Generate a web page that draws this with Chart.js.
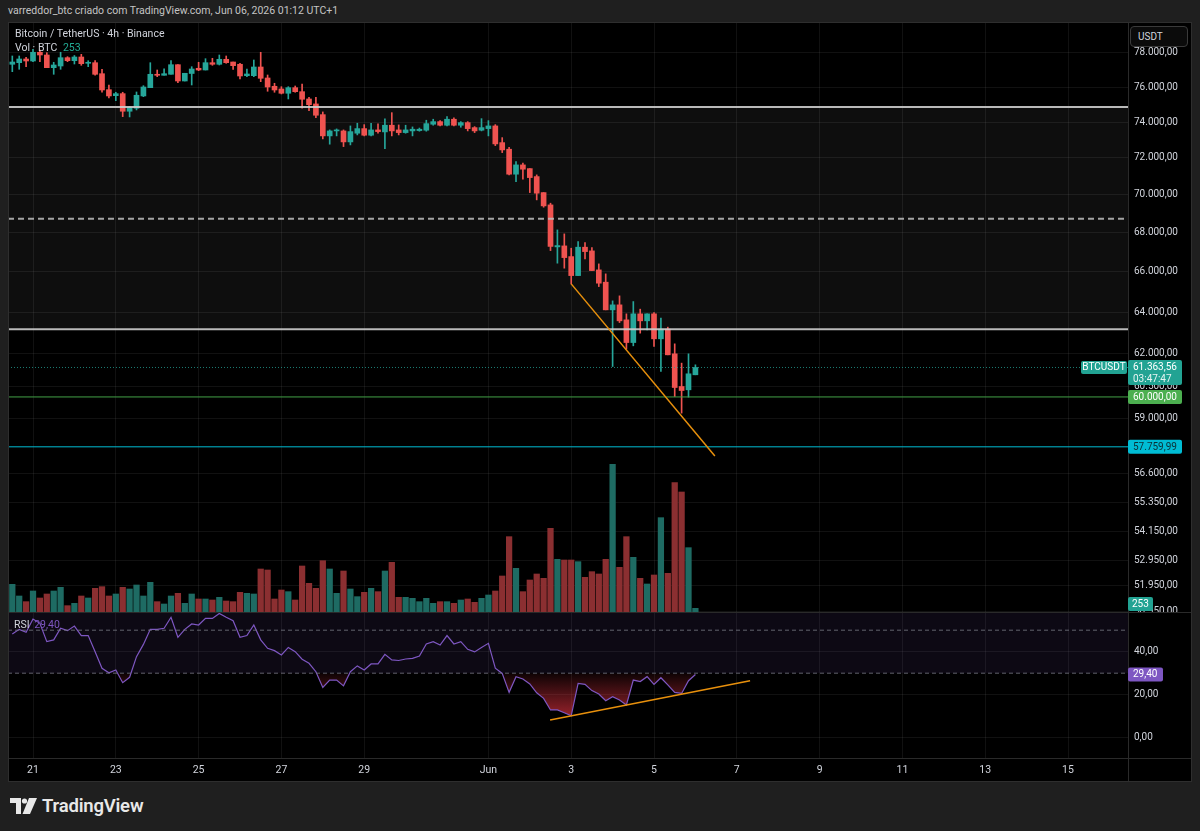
<!DOCTYPE html>
<html lang="pt">
<head>
<meta charset="utf-8">
<title>Bitcoin / TetherUS · 4h · Binance</title>
<script src="https://cdn.jsdelivr.net/npm/chart.js@4.4.1/dist/chart.umd.min.js"></script>
<style>
html,body{margin:0;padding:0;width:1200px;height:831px;background:#1f1f1f;overflow:hidden;font-family:Roboto,"Noto Sans","DejaVu Sans",sans-serif;}
.abs{position:absolute;}
#hdr{left:8px;top:4px;font-size:10.5px;line-height:14px;color:#c4c4c4;white-space:nowrap;z-index:3;}
#panelBg{left:8px;top:22px;width:1184px;height:760px;background:#000;z-index:0;}
#panelBorder{left:8px;top:22px;width:1184px;height:760px;border:1px solid #2e2e2e;box-sizing:border-box;z-index:5;pointer-events:none;}
.sepH{height:1px;background:#2a2a2a;z-index:1;}
.sepV{width:1px;background:#2a2a2a;z-index:1;}
canvas{position:absolute;z-index:2;}
.legend{z-index:4;font-size:10.5px;line-height:14px;color:#d1d4dc;white-space:nowrap;}
#usdt{left:1130px;top:26px;width:58px;height:21px;box-sizing:border-box;border:1px solid #3a3a3a;border-radius:4px;background:#0b0b0b;color:#d1d4dc;font-size:10px;line-height:19px;padding-left:7px;z-index:4;}
#logo{left:10px;top:795px;height:22px;z-index:3;display:flex;align-items:center;}
#logo span{font-size:18.5px;font-weight:600;color:#e8e8e8;margin-left:4px;letter-spacing:-0.2px;}
</style>
</head>
<body>
<div id="hdr" class="abs">varreddor_btc criado com TradingView.com, Jun 06, 2026 01:12 UTC+1</div>
<div id="panelBg" class="abs"></div>
<div class="abs sepH" style="left:8px;top:612px;width:1184px;"></div>
<div class="abs sepH" style="left:8px;top:758px;width:1184px;"></div>
<div class="abs sepV" style="left:1128px;top:22px;height:760px;"></div>
<canvas id="priceCanvas" width="1184" height="590" style="left:8px;top:22px;width:1184px;height:590px;"></canvas>
<canvas id="rsiCanvas" width="1184" height="169" style="left:8px;top:613px;width:1184px;height:169px;"></canvas>
<div class="abs legend" style="left:15px;top:27px;">Bitcoin / TetherUS · 4h · Binance</div>
<div class="abs legend" style="left:15px;top:41px;">Vol · BTC <span style="color:#22ab94;margin-left:3px;">253</span></div>
<div class="abs legend" style="left:14px;top:618px;">RSI <span style="color:#7e57c2;margin-left:2px;">29,40</span></div>
<div id="usdt" class="abs">USDT</div>
<div id="panelBorder" class="abs"></div>
<div id="logo" class="abs">
  <svg width="28" height="16" viewBox="0 0 28 16"><path d="M0 0H11V16H6V5H0Z" fill="#e8e8e8"/><circle cx="14.5" cy="3" r="2.6" fill="#e8e8e8"/><path d="M19 0H27L20 16H12.5Z" fill="#e8e8e8"/></svg>
  <span>TradingView</span>
</div>
<script>
// ---------------- data (4h candles, BTCUSDT, Binance) ----------------
const open = [77331,77425,77644,77526,78042,77881,77130,77230,77721,77543,
  77762,77390,77425,76778,75848,75502,75618,74610,74781,75485,
  75963,76743,76685,76743,77307,76352,76790,77095,76995,77425,
  77331,77626,77466,77331,76661,76661,77171,76527,76044,75888,
  75640,75963,75732,75312,75026,74417,73220,73499,73499,72885,
  73370,73628,73258,73555,73443,73818,73555,73404,73499,73516,
  73538,73874,74021,73818,74157,73818,73965,73684,73538,73628,
  73779,72846,72480,71112,71618,71416,70982,70121,69466,67276,
  67327,66780,65819,67261,67071,66106,65489,64121,64366,63634,
  62542,63926,63586,63926,62719,63185,62006,60479,60327,61022];
const high = [77822,77822,77744,78220,78179,78018,77449,78042,77780,77850,
  77920,77543,77543,77036,76119,75698,75698,74872,75715,76079,
  77425,76995,77070,77543,77307,76802,77189,77449,77662,77685,
  77881,77822,77466,77390,77054,77585,78042,76702,76218,76021,
  76021,76061,76177,75410,75410,74571,73555,73611,73555,73779,
  73931,73852,73931,73891,74174,74530,73835,73818,73723,73660,
  74100,74157,74077,74304,74230,74021,74021,73740,74191,74077,
  73852,73124,72591,71799,71711,71416,71074,70121,69556,68154,
  67947,67209,67548,67497,67240,66409,65905,64562,64809,63926,
  64528,64155,63926,63989,63717,63281,62480,61568,62006,61488];
const low = [76896,77036,77189,77484,77484,77130,76743,77036,77484,77348,
  77271,77189,76685,75698,75370,75215,74304,74287,74684,75445,
  75963,76603,76685,76743,76253,76352,76119,76954,76995,77271,
  77289,77390,77036,76468,76603,76603,76311,75756,75698,75600,
  75312,75698,74781,74644,74247,73052,72758,73220,72625,72718,
  73275,73220,73220,73370,72514,73220,73275,73370,73220,73482,
  73482,73818,73779,73779,73779,73706,73499,73404,73499,73220,
  72680,72293,71074,70712,70841,70121,69732,69344,67086,66445,
  66192,65404,65819,66663,66071,65270,64121,61409,63503,62229,
  62385,62992,63151,62352,61175,61959,60019,59264,59991,61022];
const close = [77466,77644,77526,78042,77881,77130,77289,77721,77543,77762,
  77366,77449,76743,75830,75485,75618,74610,74815,75525,76003,
  76743,76685,76778,77307,76352,76802,77054,76995,77425,77331,
  77626,77425,77248,76644,76761,77171,76509,76003,75830,75640,
  75963,75732,75295,74986,74383,73220,73499,73555,72885,73460,
  73628,73258,73555,73460,73818,73499,73404,73555,73594,73594,
  73908,74021,73818,74157,73818,73965,73628,73499,73684,73779,
  72774,72442,71112,71618,71384,70928,70089,69413,67300,67343,
  66729,65819,67261,67035,66071,65439,64121,64366,63586,62542,
  63926,63586,63926,62719,63185,61959,60433,60295,61068,61363.56];
const volume = [1909,1104,713,1449,966,1242,1449,1702,437,598,
  1104,966,1633,1748,1104,1242,1702,1587,1863,1104,
  2047,713,552,1104,1288,598,1242,897,897,828,
  1012,759,713,1357,1288,1242,2967,2898,897,1518,
  1403,828,3174,1978,1633,3542,2967,1288,2829,1587,
  1058,1357,1633,1403,2829,3427,1012,1012,943,713,
  943,598,713,713,598,828,897,667,943,1173,
  1449,2484,5198,3013,1403,2208,2622,2323,5773,3634,
  3588,3588,3473,2392,2783,2622,3634,10189,3082,5198,
  3772,2323,1932,2553,6509,2668,8924,8280,4439,253];
const rsi = [48.2,50.4,49.0,55.2,53.2,44.7,45.5,50.9,49.8,51.9,
  47.5,47.5,40.0,32.3,30.2,31.5,25.6,28.1,37.7,43.4,
  50.4,50.4,50.9,56.0,46.7,50.4,52.9,52.4,55.5,55.5,
  57.8,56.0,54.4,46.7,47.5,52.4,45.5,41.6,40.5,38.5,
  42.0,40.0,36.5,34.6,30.7,23.4,26.8,26.8,24.1,30.7,
  33.4,31.5,34.3,34.3,38.8,36.2,35.9,36.6,36.9,38.0,
  43.6,44.7,43.1,47.5,43.6,44.7,41.1,39.9,42.0,43.9,
  32.3,29.9,21.1,28.4,27.3,25.0,20.9,18.3,12.9,12.9,
  11.6,10.2,25.3,24.8,21.9,20.3,17.2,19.1,17.5,15.2,
  26.8,26.1,28.4,24.8,27.9,24.6,21.1,20.6,26.5,29.4];

// time: days counted from 21 May 00:00; first bar opens 20 May 12:00, 4h bars
const FIRST_BAR_DAY = -0.5;
const BAR_STEP_DAYS = 4 / 24;
const barTime = open.map((_, i) => FIRST_BAR_DAY + i * BAR_STEP_DAYS);

const dayTicks  = [0, 2, 4, 6, 8, 11, 13, 15, 17, 19, 21, 23, 25];
const dayLabels = ['21','23','25','27','29','Jun','3','5','7','9','11','13','15'];
const priceTicks = [78000,76000,74000,72000,70000,68000,66000,64000,62000,60500,59000,56600,55350,54150,52950,51950,50950];
const rsiTicks = [0, 20, 40];

// drawn levels
const resistanceHigh = 74850;
const resistanceDashed = 68730;
const supportMid = 63175;
const support60k = 60000;
const supportLow = 57759.99;
const priceTrend = [{x: 13.0, y: 65404}, {x: 16.47, y: 57358}];
const rsiTrend = [{x: 12.49, y: 8.2}, {x: 17.32, y: 26.5}];
const rsiUpper = 70, rsiMiddle = 50, rsiLower = 30;
const countdown = '03:47:47';

// ---------------- view ranges ----------------
const X_MIN = -0.604, X_MAX = 26.449;
const P_MIN = 50922, P_MAX = 79866;
const VOL_MAX = 40710;
const RSI_MIN = -9.44, RSI_MAX = 58.0;

const UP = '#26a69a', DOWN = '#ef5350';
const VOL_UP = '#1e6b63', VOL_DOWN = '#8b2f31';
const GRID = 'rgba(255,255,255,0.065)';
const FONT = 'Roboto, "Noto Sans", sans-serif';

Chart.defaults.font.family = FONT;
Chart.defaults.font.size = 10;
Chart.defaults.color = '#d1d4dc';

function fmt(v, dec) {
  const d = dec === undefined ? 2 : dec;
  const s = Math.abs(v).toFixed(d).split('.');
  const a = s[0].replace(/\B(?=(\d{3})+(?!\d))/g, '.');
  return (v < 0 ? '-' : '') + a + (s[1] ? ',' + s[1] : '');
}

const isUp = close.map((c, i) => c >= open[i]);
const candleColor = isUp.map(u => u ? UP : DOWN);
const volColor = isUp.map(u => u ? VOL_UP : VOL_DOWN);
const last = close.length - 1;

function hLine(value, color, width, dash, axis) {
  return {
    type: 'line', yAxisID: axis || 'y',
    data: [{x: X_MIN, y: value}, {x: X_MAX, y: value}],
    borderColor: color, borderWidth: width, borderDash: dash || [],
    pointRadius: 0, order: 1, fill: false
  };
}

function tagBox(ctx, x, y, w, h, bg) {
  ctx.fillStyle = bg;
  ctx.beginPath();
  if (ctx.roundRect) ctx.roundRect(x, y, w, h, 2); else ctx.rect(x, y, w, h);
  ctx.fill();
}

// price pane plugin: zone fill + right-axis tags
const pricePlugin = {
  id: 'pricePlugin',
  beforeDatasetsDraw(chart) {
    const ctx = chart.ctx, ca = chart.chartArea, ys = chart.scales.y;
    const y1 = ys.getPixelForValue(resistanceHigh), y2 = ys.getPixelForValue(supportMid);
    ctx.save();
    ctx.fillStyle = 'rgba(255,255,255,0.055)';
    ctx.fillRect(ca.left, y1, ca.right - ca.left, y2 - y1);
    ctx.restore();
  },
  afterDraw(chart) {
    const ctx = chart.ctx, ca = chart.chartArea, ys = chart.scales.y, yv = chart.scales.yv;
    ctx.save();
    ctx.font = '10px ' + FONT;
    ctx.textBaseline = 'middle';
    const ax = ca.right;
    // cyan level
    let py = ys.getPixelForValue(supportLow);
    tagBox(ctx, ax, py - 7, 54, 14, '#00bcd4');
    ctx.fillStyle = '#0c2f36'; ctx.textAlign = 'left';
    ctx.fillText(fmt(supportLow), ax + 5, py + 0.5);
    // green level
    py = ys.getPixelForValue(support60k);
    tagBox(ctx, ax, py - 7, 54, 14, '#4caf50');
    ctx.fillStyle = '#ffffff';
    ctx.fillText(fmt(support60k), ax + 5, py + 0.5);
    // last price
    py = ys.getPixelForValue(close[last]);
    tagBox(ctx, ax, py - 7.5, 54, 25, '#22a393');
    ctx.fillStyle = '#ffffff';
    ctx.fillText(fmt(close[last]), ax + 5, py + 0.5);
    ctx.fillStyle = '#e6f4f2';
    ctx.fillText(countdown, ax + 5, py + 12);
    tagBox(ctx, ax - 47, py - 6.5, 46, 13, '#22a393');
    ctx.fillStyle = '#ffffff'; ctx.textAlign = 'center';
    ctx.fillText('BTCUSDT', ax - 24, py + 0.5);
    // volume tag
    let vy = Math.min(yv.getPixelForValue(volume[last]), ca.bottom - 8);
    tagBox(ctx, ax, vy - 7, 25, 14, '#22a393');
    ctx.fillStyle = '#ffffff'; ctx.textAlign = 'left';
    ctx.fillText(String(volume[last]), ax + 4, vy + 0.5);
    ctx.restore();
  }
};

new Chart(document.getElementById('priceCanvas'), {
  type: 'bar',
  data: {
    datasets: [
      {
        type: 'bar', label: 'Volume', yAxisID: 'yv', order: 10, grouped: false,
        data: barTime.map((x, i) => ({x: x, y: volume[i]})),
        backgroundColor: volColor, borderWidth: 0, barThickness: 5.6
      },
      {
        type: 'bar', label: 'Wick', yAxisID: 'y', order: 5, grouped: false,
        data: barTime.map((x, i) => ({x: x, y: [low[i], high[i]]})),
        backgroundColor: candleColor, borderWidth: 0, barThickness: 1, minBarLength: 1
      },
      {
        type: 'bar', label: 'Body', yAxisID: 'y', order: 4, grouped: false,
        data: barTime.map((x, i) => ({x: x, y: [open[i], close[i]]})),
        backgroundColor: candleColor, borderWidth: 0, barThickness: 5, minBarLength: 1
      },
      hLine(resistanceHigh, 'rgba(205,205,205,0.9)', 2, []),
      hLine(resistanceDashed, 'rgba(190,190,190,0.85)', 2, [6, 4]),
      hLine(supportMid, 'rgba(205,205,205,0.9)', 2, []),
      hLine(support60k, '#43a047', 1, []),
      hLine(supportLow, '#00bcd4', 1, []),
      hLine(close[last], 'rgba(38,166,154,0.75)', 1, [1, 2]),
      {
        type: 'line', yAxisID: 'y', data: priceTrend, borderColor: '#e8900c', borderWidth: 1.5,
        pointRadius: 0, order: 0, fill: false
      }
    ]
  },
  options: {
    responsive: false, animation: false, devicePixelRatio: 1,
    layout: {padding: 0},
    events: [],
    plugins: {legend: {display: false}, tooltip: {enabled: false}},
    scales: {
      x: {
        type: 'linear', min: X_MIN, max: X_MAX, bounds: 'data', offset: false,
        grid: {color: GRID, drawTicks: false, offset: false},
        border: {display: false},
        ticks: {display: false},
        afterBuildTicks: s => { s.ticks = dayTicks.map(v => ({value: v})); },
        afterFit: s => { s.height = 0; s.paddingLeft = 0; s.paddingRight = 0; }
      },
      y: {
        type: 'logarithmic', position: 'right', min: P_MIN, max: P_MAX, bounds: 'data',
        grid: {color: GRID, drawTicks: false},
        border: {display: false},
        ticks: {callback: v => fmt(v), padding: 6, autoSkip: false, color: '#d1d4dc', font: {size: 10}},
        afterBuildTicks: s => { s.ticks = priceTicks.map(v => ({value: v})); },
        afterFit: s => { s.width = 64; s.paddingTop = 0; s.paddingBottom = 0; }
      },
      yv: {type: 'linear', display: false, min: 0, max: VOL_MAX, bounds: 'data'}
    }
  },
  plugins: [pricePlugin]
});

// RSI pane plugin: band fill, oversold gradient, value tag
const rsiPlugin = {
  id: 'rsiPlugin',
  beforeDatasetsDraw(chart) {
    const ctx = chart.ctx, ca = chart.chartArea, ys = chart.scales.y;
    const yTop = Math.max(ys.getPixelForValue(rsiUpper), ca.top);
    const y30 = ys.getPixelForValue(rsiLower);
    ctx.save();
    ctx.fillStyle = 'rgba(126,87,194,0.10)';
    ctx.fillRect(ca.left, yTop, ca.right - ca.left, y30 - yTop);
    // oversold fill between RSI line and the lower band
    const pts = chart.getDatasetMeta(0).data;
    ctx.beginPath();
    ctx.rect(ca.left, y30, ca.right - ca.left, ca.bottom - y30);
    ctx.clip();
    ctx.beginPath();
    ctx.moveTo(pts[0].x, y30);
    pts.forEach(p => ctx.lineTo(p.x, p.y));
    ctx.lineTo(pts[pts.length - 1].x, y30);
    ctx.closePath();
    const g = ctx.createLinearGradient(0, y30, 0, ys.getPixelForValue(10));
    g.addColorStop(0, 'rgba(242,54,69,0.06)');
    g.addColorStop(1, 'rgba(242,54,69,0.62)');
    ctx.fillStyle = g;
    ctx.fill();
    ctx.restore();
  },
  afterDraw(chart) {
    const ctx = chart.ctx, ca = chart.chartArea, ys = chart.scales.y;
    const py = ys.getPixelForValue(rsi[last]);
    ctx.save();
    tagBox(ctx, ca.right, py - 7, 35, 14, '#7e57c2');
    ctx.font = '10px ' + FONT;
    ctx.textBaseline = 'middle'; ctx.textAlign = 'left';
    ctx.fillStyle = '#ffffff';
    ctx.fillText(fmt(rsi[last]), ca.right + 5, py + 0.5);
    ctx.restore();
  }
};

new Chart(document.getElementById('rsiCanvas'), {
  type: 'line',
  data: {
    datasets: [
      {
        label: 'RSI', data: barTime.map((x, i) => ({x: x, y: rsi[i]})),
        borderColor: '#7e57c2', borderWidth: 1.2, pointRadius: 0, order: 2, fill: false, tension: 0
      },
      hLine(rsiMiddle, 'rgba(120,123,134,0.8)', 1, [4, 3]),
      hLine(rsiLower, 'rgba(120,123,134,0.8)', 1, [4, 3]),
      {
        data: rsiTrend, borderColor: '#e8900c', borderWidth: 1.5, pointRadius: 0, order: 0, fill: false
      }
    ]
  },
  options: {
    responsive: false, animation: false, devicePixelRatio: 1,
    layout: {padding: 0},
    events: [],
    plugins: {legend: {display: false}, tooltip: {enabled: false}},
    scales: {
      x: {
        type: 'linear', min: X_MIN, max: X_MAX, bounds: 'data',
        grid: {color: GRID, drawTicks: false},
        border: {display: false},
        ticks: {
          padding: 6, autoSkip: false, maxRotation: 0, color: '#d1d4dc', font: {size: 10.5},
          callback: v => { const k = dayTicks.indexOf(v); return k >= 0 ? dayLabels[k] : ''; }
        },
        afterBuildTicks: s => { s.ticks = dayTicks.map(v => ({value: v})); },
        afterFit: s => { s.height = 24; s.paddingLeft = 0; s.paddingRight = 0; }
      },
      y: {
        type: 'linear', position: 'right', min: RSI_MIN, max: RSI_MAX, bounds: 'data',
        grid: {color: GRID, drawTicks: false},
        border: {display: false},
        ticks: {callback: v => fmt(v), padding: 6, autoSkip: false, color: '#d1d4dc', font: {size: 10}},
        afterBuildTicks: s => { s.ticks = rsiTicks.map(v => ({value: v})); },
        afterFit: s => { s.width = 64; s.paddingTop = 0; s.paddingBottom = 0; }
      }
    }
  },
  plugins: [rsiPlugin]
});
</script>
</body>
</html>
